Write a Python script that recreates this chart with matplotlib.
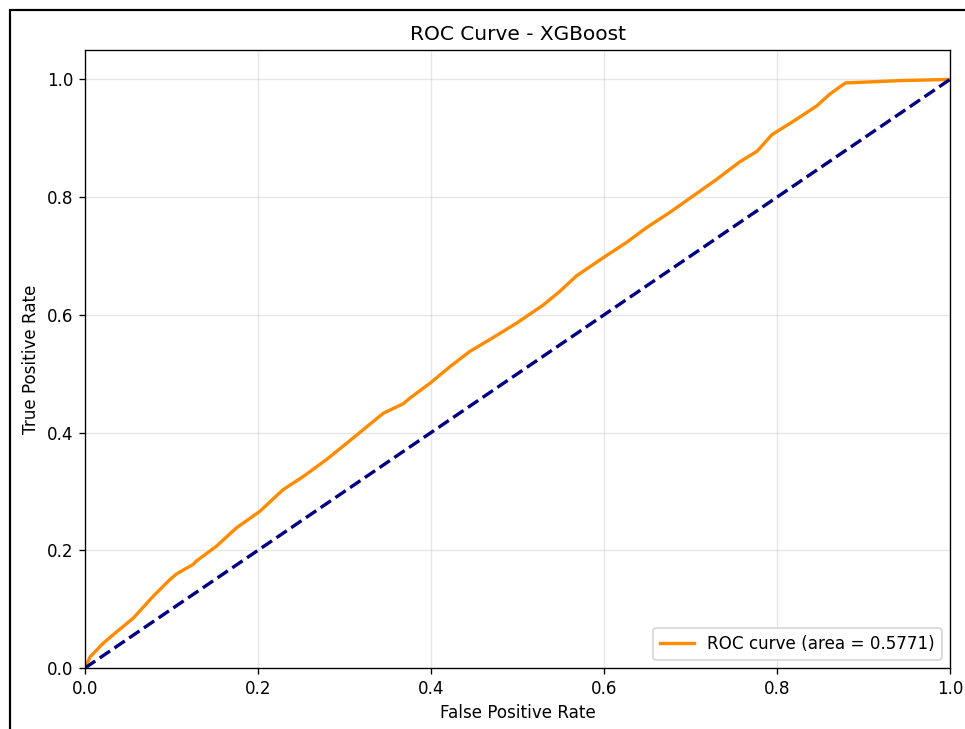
import matplotlib
matplotlib.use("Agg")
import matplotlib.pyplot as plt
from matplotlib.lines import Line2D

fpr = [0.0, 0.006, 0.021, 0.037, 0.056, 0.077, 0.083, 0.098, 0.106, 0.125, 0.129, 0.152, 0.175,
       0.202, 0.229, 0.252, 0.279, 0.306, 0.345, 0.368, 0.376, 0.399, 0.422, 0.445, 0.468,
       0.499, 0.530, 0.549, 0.568, 0.599, 0.626, 0.649, 0.676, 0.703, 0.730, 0.757, 0.777,
       0.794, 0.819, 0.846, 0.861, 0.879, 0.942, 1.0]
tpr = [0.0, 0.019, 0.042, 0.062, 0.085, 0.119, 0.128, 0.150, 0.160, 0.176, 0.182, 0.207, 0.238,
       0.266, 0.303, 0.325, 0.354, 0.386, 0.433, 0.449, 0.459, 0.484, 0.512, 0.538, 0.558,
       0.586, 0.617, 0.640, 0.666, 0.697, 0.723, 0.748, 0.774, 0.802, 0.830, 0.860, 0.878,
       0.906, 0.929, 0.955, 0.975, 0.994, 0.998, 1.0]
roc_auc = 0.5771
diag = [0, 1]

DPI = 121
fig = plt.figure(figsize=(965/DPI, 729/DPI), dpi=DPI)
ax = fig.add_axes([85/965, 1-668/729, 865/965, 618/729])

ax.plot(fpr, tpr, color='darkorange', lw=2, label=f'ROC curve (area = {roc_auc:.4f})')
ax.plot(diag, diag, color='navy', lw=2, linestyle='--')
ax.set_xlim(0.0, 1.0)
ax.set_ylim(0.0, 1.05)
ax.set_xlabel('False Positive Rate')
ax.set_ylabel('True Positive Rate')
ax.set_title('ROC Curve - XGBoost')
ax.legend(loc='lower right')
ax.grid(True, alpha=0.3)

# outer frame of the screenshot
x0 = 10/965
y0 = 1 - 10/729
fig.add_artist(Line2D([x0, x0, 1.0], [0.0, y0, y0], transform=fig.transFigure,
                      color='black', lw=1.3, solid_joinstyle='miter'))

fig.savefig('out.png', dpi=DPI)
